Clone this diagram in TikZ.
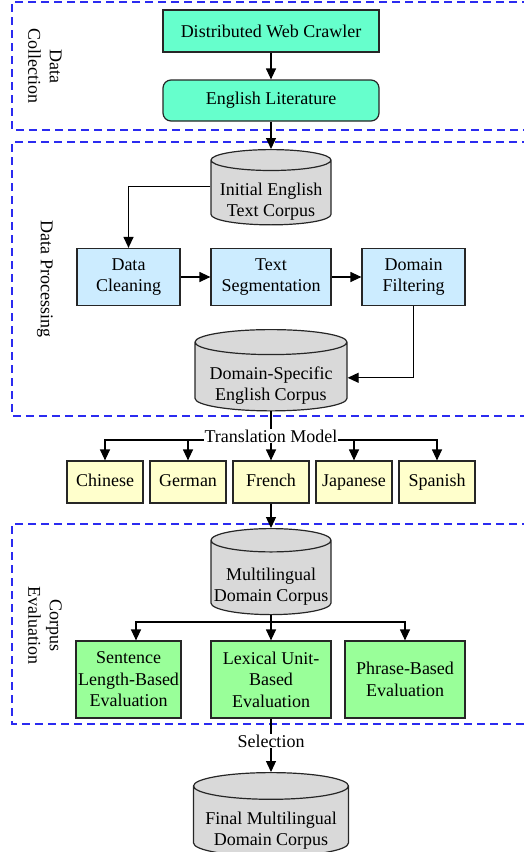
\documentclass[tikz,border=0pt]{standalone}
\usepackage{fontspec}
\setmainfont{Liberation Serif}
\usetikzlibrary{arrows.meta,shapes.geometric}
\definecolor{frameblue}{HTML}{2B2BF0}
\definecolor{aqua}{HTML}{66FFCC}
\definecolor{skypale}{HTML}{CCECFF}
\definecolor{creampale}{HTML}{FFFFCC}
\definecolor{leafgreen}{HTML}{99FF99}
\definecolor{corpusgray}{HTML}{D9D9D9}
\definecolor{edge}{HTML}{262626}
\tikzset{
  >={Triangle[length=11pt,width=10pt]},
  box/.style={draw=edge,line width=1.2pt,align=center,inner sep=2pt,font=\fontsize{18}{21.6}\selectfont},
  collectbox/.style={box,fill=aqua,minimum width=216pt,minimum height=42pt},
  procbox/.style={box,fill=skypale,minimum height=57pt},
  langbox/.style={box,fill=creampale,minimum width=76pt,minimum height=42pt,text height=13pt,text depth=4pt},
  evalbox/.style={box,fill=leafgreen,minimum height=77pt},
  corpus/.style={box,cylinder,shape border rotate=90,aspect=0.2,inner sep=1pt,fill=corpusgray},
  flow/.style={->,line width=1.2pt,color=black},
  stage/.style={draw=frameblue,dash pattern=on 8pt off 5pt,line width=1.3pt},
  stagelabel/.style={rotate=-90,align=center,font=\fontsize{18}{21.6}\selectfont},
  tag/.style={fill=white,inner sep=1pt,font=\fontsize{18}{21.6}\selectfont},
}
% text of a cylinder sits a little low in its body
\newcommand{\corpustext}[1]{\raisebox{-8pt}[\height][\depth]{\begin{tabular}{@{}c@{}}#1\end{tabular}}}
\begin{document}
\begin{tikzpicture}[x=1pt,y=-1pt]
  \useasboundingbox (0,0) rectangle (523,852);
  % stage frames
  \draw[stage] (530,2) -- (12,2) -- (12,130) -- (530,130);
  \draw[stage] (530,142) -- (12,142) -- (12,416) -- (530,416);
  \draw[stage] (530,524) -- (12,524) -- (12,724) -- (530,724);
  \node[stagelabel] (lblcollect) at (45,66) {Data\\Collection};
  \node[stagelabel] (lblprocess) at (45,279) {Data Processing};
  \node[stagelabel] (lbleval) at (45,625) {Corpus\\Evaluation};

  % data collection
  \node[collectbox] (crawler) at (271,31) {Distributed Web Crawler};
  \node[collectbox,rounded corners=8pt,minimum height=41pt] (lit) at (271,100.5) {English Literature};

  % data processing
  \node[corpus,minimum width=120pt,minimum height=72pt,anchor=top] (initial) at (271,149) {\corpustext{Initial English\\Text Corpus}};
  \node[procbox,minimum width=103pt] (clean) at (128.5,277) {Data\\Cleaning};
  \node[procbox,minimum width=120pt] (segment) at (271,277) {Text\\Segmentation};
  \node[procbox,minimum width=103pt] (filter) at (413.5,277) {Domain\\Filtering};
  \node[corpus,minimum width=152pt,minimum height=80pt,anchor=top] (domain) at (271,329) {\corpustext{Domain-Specific\\English Corpus}};

  % translation
  \coordinate (tsplit) at (271,440);
  \foreach \lang/\cx [count=\k] in {Chinese/105,German/188,French/271,Japanese/354,Spanish/437}
    \node[langbox] (lang\k) at (\cx,482) {\lang};

  % corpus evaluation
  \node[corpus,minimum width=120pt,minimum height=86pt,anchor=top] (multi) at (271,528) {\corpustext{Multilingual\\Domain Corpus}};
  \coordinate (esplit) at (271,622);
  \node[evalbox,minimum width=103pt] (sentence) at (128.5,679.5) {Sentence\\Length-Based\\Evaluation};
  \node[evalbox,minimum width=120pt] (lexical) at (271,679.5) {Lexical Unit-\\Based\\Evaluation};
  \node[evalbox,minimum width=120pt] (phrase) at (405,679.5) {Phrase-Based\\Evaluation};
  \node[corpus,minimum width=155pt,minimum height=71pt,anchor=top] (final) at (271,772) {\corpustext{Final Multilingual\\Domain Corpus}};

  % connectors
  \draw[flow] (crawler) -- (lit);
  \draw[flow] (lit) -- (initial.top);
  \draw[flow] ([yshift=7pt]initial.west) -| (clean.north);
  \draw[flow] (clean) -- (segment);
  \draw[flow] (segment) -- (filter);
  \draw[flow] (filter.south) |- (domain.east);
  \draw[line width=1.2pt] (domain.bottom) -- (tsplit);
  \foreach \k in {1,2,4,5}
    \draw[flow] (tsplit) -| (lang\k.north);
  \draw[flow] (tsplit) -- (lang3.north);
  \node[tag] (tmodel) at (271,436) {Translation Model};
  \draw[flow] (lang3.south) -- (multi.top);
  \draw[line width=1.2pt] (multi.bottom) -- (esplit);
  \draw[flow] (esplit) -| ([xshift=7.5pt]sentence.north);
  \draw[flow] (esplit) -- (lexical.north);
  \draw[flow] (esplit) -| (phrase.north);
  \draw[flow] (lexical.south) -- (final.top);
  \node[tag] (select) at (271,741) {Selection};
\end{tikzpicture}
\end{document}
